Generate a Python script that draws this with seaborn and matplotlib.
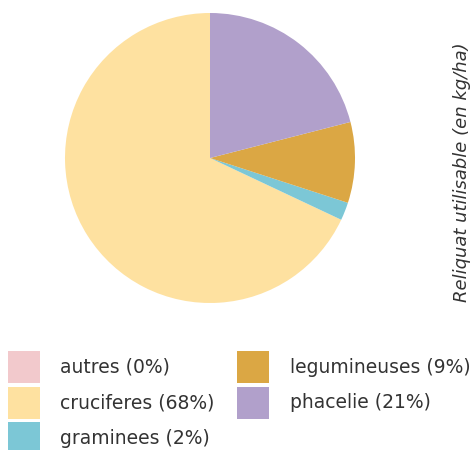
import matplotlib.pyplot as plt
import seaborn as sns
from matplotlib.patches import Patch

categories = ['autres', 'cruciferes', 'graminees', 'legumineuses', 'phacelie']
shares = [0, 68, 2, 9, 21]
colors = ['#F2C9CC', '#FEE1A0', '#7CC7D6', '#DBA744', '#B1A0CB']
ylabel = 'Reliquat utilisable (en kg/ha)'

sns.set_style('white')
plt.rcParams['font.family'] = ['DejaVu Sans']

fig = plt.figure(figsize=(4.73, 4.5), dpi=100)
W, H = 473, 450
cx, cy, r = 210, 158, 145
ax = fig.add_axes([(cx - r) / W, (H - cy - r) / H, 2 * r / W, 2 * r / H])
ax.pie(shares, colors=colors, startangle=90, counterclock=True,
       wedgeprops=dict(linewidth=0))
ax.set_xlim(-1, 1)
ax.set_ylim(-1, 1)
ax.set_aspect('equal')

fig.text(462 / W, 1 - 172 / H, ylabel, rotation=90, style='italic',
         fontsize=13, color='#333333', ha='center', va='center')

handles = [Patch(facecolor=c, edgecolor='none') for c in colors]
labels = [f'{c} ({s}%)' for c, s in zip(categories, shares)]
fig.legend(handles, labels, ncol=2, loc='upper left',
           bbox_to_anchor=(8 / W, 1 - 351 / H), frameon=False,
           fontsize=13.5, handlelength=1.7, handleheight=2.25,
           labelspacing=0.19, columnspacing=1.2, handletextpad=1.1,
           borderaxespad=0, borderpad=0, labelcolor='#333333')

fig.savefig('out.png', dpi=100)
